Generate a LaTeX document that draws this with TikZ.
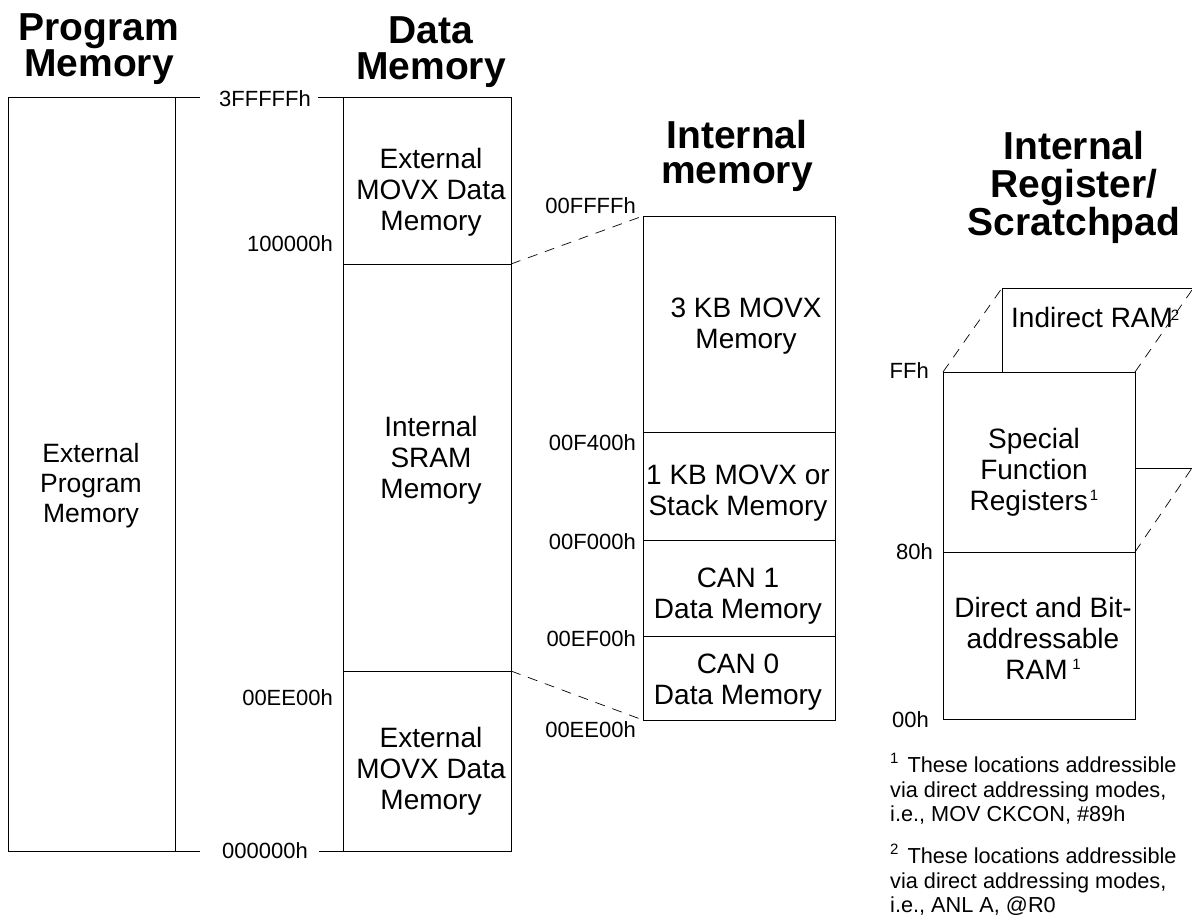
\documentclass[tikz,border=0pt]{standalone}
\usepackage{fontspec}
\setmainfont{Liberation Sans}
\tikzset{
  px/.style={x=1pt,y=-1pt},
  box/.style={draw=black,line width=0.9pt,inner sep=0,outer sep=0,anchor=north west},
  lbl/.style={font=\fontsize{28}{31}\selectfont,align=center,inner sep=0},
  addr/.style={font=\fontsize{22}{24}\selectfont,inner sep=0},
  head/.style={font=\fontsize{39}{35.5}\selectfont\bfseries,align=center,inner sep=0},
  note/.style={font=\fontsize{21.7}{24.6}\selectfont,align=left,inner sep=0,anchor=north west},
  wire/.style={line width=0.9pt},
  dashline/.style={line width=0.7pt,dash pattern=on 10pt off 8pt}
}
\newcommand{\rbox}[5]{\node[box,minimum width=#4pt,minimum height=#5pt] (#1) at (#2,#3) {};}
\newcommand{\smallsup}[1]{\raisebox{10pt}{\fontsize{15}{15}\selectfont #1}}
\newcommand{\notesup}[1]{\raisebox{9pt}{\fontsize{15}{15}\selectfont #1}\kern9pt}
\begin{document}
\begin{tikzpicture}[px]
\useasboundingbox (0,0) rectangle (1192,918);
% headings
\node[head] (h1) at (99,49) {Program\\Memory};
\node[head] (h2) at (431,52) {Data\\Memory};
\node[head] (h3) at (737,156) {Internal\\memory};
\node[head,font=\fontsize{39}{38}\selectfont\bfseries] (h4) at (1074,187) {Internal\\Register/\\Scratchpad};
% program memory
\rbox{pm}{8}{97}{167}{754}
\node[lbl,font=\fontsize{26.5}{30}\selectfont] at (91,486) {External\\Program\\Memory};
% data memory
\rbox{dm1}{343}{97}{168}{167}
\rbox{dm2}{343}{264}{168}{407}
\rbox{dm3}{343}{671}{168}{180}
\node[lbl] at (431,192) {External\\MOVX Data\\Memory};
\node[lbl] at (431,460) {Internal\\SRAM\\Memory};
\node[lbl] at (431,771) {External\\MOVX Data\\Memory};
% addresses and joining lines
\node[addr] (a3f) at (265,99) {3FFFFFh};
\node[addr] (a00) at (265,851) {000000h};
\coordinate (t1) at (200,97);
\coordinate (t2) at (318,97);
\coordinate (b1) at (200,851);
\coordinate (b2) at (319,851);
\draw[wire] (pm.north east) -- (t1);
\draw[wire] (t2) -- (dm1.north west);
\draw[wire] (pm.south east) -- (b1);
\draw[wire] (b2) -- (dm3.south west);
\node[addr,anchor=east] at (333,244) {100000h};
\node[addr,anchor=east] at (333,698) {00EE00h};
% internal memory
\rbox{im1}{643}{216}{192}{216}
\rbox{im2}{643}{432}{192}{108}
\rbox{im3}{643}{540}{192}{96}
\rbox{im4}{643}{636}{192}{84}
\node[lbl] at (746,326) {3 KB MOVX\\Memory};
\node[lbl] at (738,493) {1 KB MOVX or\\Stack Memory};
\node[lbl] at (738,596) {CAN 1\\Data Memory};
\node[lbl] at (738,682) {CAN 0\\Data Memory};
\node[addr,anchor=east] at (636,206) {00FFFFh};
\node[addr,anchor=east] at (636,443) {00F400h};
\node[addr,anchor=east] at (636,542) {00F000h};
\node[addr,anchor=east] at (636,639) {00EF00h};
\node[addr,anchor=east] at (636,730) {00EE00h};
\draw[dashline] (dm2.north east) -- (im1.north west);
\draw[dashline] (dm3.north east) -- (im4.south west);
% scratchpad
\rbox{sfr}{943}{372}{192}{180}
\rbox{dir}{943}{552}{192}{167}
\node[lbl] at (1034,472) {Special\\Function\\Registers\kern2pt\smallsup{1}};
\node[lbl] at (1043,638) {Direct and Bit-\\addressable\\RAM\,\smallsup{1}};
\node[addr,anchor=east] at (929,371) {FFh};
\node[addr,anchor=east] at (933,552) {80h};
\node[addr,anchor=east] at (929,720) {00h};
% indirect RAM
\coordinate (indtl) at (1002,288);
\coordinate (indtr) at (1192,288);
\coordinate (indbl) at (1002,372);
\coordinate (indd) at (1192,290);
\coordinate (sfre) at (1192,468);
\coordinate (sfrm) at (1135,468);
\draw[wire] (indbl) -- (indtl) -- (indtr);
\draw[dashline] (sfr.north west) -- (indtl);
\draw[dashline] (sfr.north east) -- (indd);
\draw[wire] (sfrm) -- (sfre);
\draw[dashline] (sfr.south east) -- (sfre);
\node[lbl,anchor=west] at (1011,317) {Indirect RAM};
\node[font=\fontsize{15}{15}\selectfont,inner sep=0] at (1175,315) {2};
% notes
\node[note] at (890,753) {\notesup{1}These locations addressible\\via direct addressing modes,\\i.e., MOV CKCON, \#89h};
\node[note] at (890,844) {\notesup{2}These locations addressible\\via direct addressing modes,\\i.e., ANL A, @R0};
\end{tikzpicture}
\end{document}
